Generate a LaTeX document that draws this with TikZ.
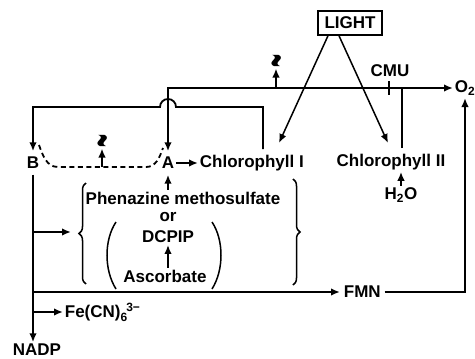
\documentclass[tikz,border=0pt]{standalone}
\usepackage{fontspec}
\setmainfont{Liberation Sans}
\usetikzlibrary{arrows.meta,decorations.pathreplacing}
\newcommand{\squig}{\resizebox{13pt}{9pt}{\raisebox{-0.26em}[\dimexpr\height-0.26em\relax][0pt]{\textasciitilde}}}
\begin{document}
\begin{tikzpicture}[x=1pt,y=-1pt,
  line width=1.8pt,
  tip/.tip={Latex[length=9pt,width=7.5pt]},
  arr/.style={-tip},
  lbl/.style={font=\fontsize{17}{19}\selectfont\bfseries, inner sep=1pt},
  ab/.style={lbl, inner xsep=1pt, inner ysep=5pt},
  sq/.style={rotate=90, font=\fontsize{28}{28}\selectfont\bfseries, inner sep=0pt},
  thin/.style={line width=1.5pt}]
\useasboundingbox (0,0) rectangle (475,359);
\fill[white] (0,0) rectangle (475,359);

% nodes
\node[lbl,draw,thin,minimum width=64pt,minimum height=24pt] (light) at (350,23) {LIGHT};
\node[ab] (A) at (168,163) {A};
\node[ab] (B) at (33,163) {B};
\node[lbl,anchor=west] (chl1) at (198,163) {Chlorophyll I};
\node[lbl] (chl2) at (391,162) {Chlorophyll II};
\node[lbl] (cmu) at (390,71) {CMU};
\node[lbl] (h2o) at (401,195) {H\textsubscript{2}O};
\node[lbl] (phen) at (183,198) {Phenazine methosulfate};
\node[lbl] (or) at (168,217) {or};
\node[lbl] (dcpip) at (168,237) {DCPIP};
\node[lbl] (asc) at (165,276) {Ascorbate};
\node[lbl,anchor=west,inner xsep=3pt] (fmn) at (340,292) {FMN};
\node[lbl,anchor=west] (fecn) at (63,312) {Fe(CN)\raisebox{-4pt}{\fontsize{12}{12}\selectfont 6}\kern-1pt\raisebox{6pt}{\fontsize{12}{12}\selectfont 3−}};
\node[lbl] (nadp) at (37,350) {NADP};
\node[lbl,anchor=west] (o2) at (453,88) {O\textsubscript{2}};
\node[sq] (sq1) at (102,141) {\squig};
\node[sq] (sq2) at (276,61) {\squig};

% helper coordinates
\coordinate (c1) at (263,149);
\coordinate (c1top) at (263,107);
\coordinate (l1) at (279,143);
\coordinate (l2) at (388,143);
\coordinate (c2) at (402,148);
\coordinate (o2in) at (465,98);
\coordinate (brin) at (71,232);
\coordinate (cmut) at (389,81);
\coordinate (cmub) at (389,95);
\coordinate (sq1b) at (102,167);

% A <- top line -> O2
\draw[tip-tip] (A.north) |- (o2.west);
% Chlorophyll I -> B with hop
\draw[arr] (c1) -- (c1top) -- ([xshift=8pt]A.north |- c1top)
  arc[start angle=0,end angle=180,radius=8pt] -- (B.north |- c1top) -- (B.north);
% light arrows
\draw[arr,thin] ([xshift=-22pt]light.south) -- (l1);
\draw[arr,thin] ([xshift=-11pt]light.south) -- (l2);
% Chlorophyll II up to line
\draw (c2) -- (c2 |- o2.west);
% CMU block
\draw (cmut) -- (cmub);
% ~ arrows
\draw[arr] (sq2 |- o2.west) -- ([yshift=-7.5pt]sq2.center);
\draw[arr] (sq1b) -- ([yshift=-7.5pt]sq1.center);
% dashed B ... A
\draw[dash pattern=on 5pt off 3.5pt] (39,145) to[out=-70,in=180] (58,167) -- (146,167) to[out=0,in=-110] (163,148);
% A -> Chlorophyll I
\draw[arr] (A.east) -- (chl1.west);
% H2O -> Chlorophyll II
\draw[arr] (h2o.north) -- (h2o.north |- chl2.south);
% phenazine -> A
\draw[arr] (A |- phen.north) -- (A.south);
% ascorbate -> DCPIP
\draw[arr] (dcpip |- asc.north) -- (dcpip.south);
% braces
\draw[thin,decorate,decoration={brace,amplitude=7pt}] (86,284) -- (86,183);
\draw[thin,decorate,decoration={brace,amplitude=7pt}] (293,179) -- (293,285);
% parentheses
\draw[thin] (116,222) .. controls (104,240) and (104,270) .. (116,289);
\draw[thin] (212,222) .. controls (224,240) and (224,270) .. (212,289);
% B line down
\draw[arr] (B.south) -- (B.south |- nadp.north);
\draw[arr] (B.south |- brin) -- (brin);
\draw[arr] (B.south |- fmn.west) -- (fmn.west);
\draw[arr] (B.south |- fecn.west) -- (fecn.west);
% FMN -> O2
\draw[arr] (fmn.east) -| (o2in);
\end{tikzpicture}
\end{document}
